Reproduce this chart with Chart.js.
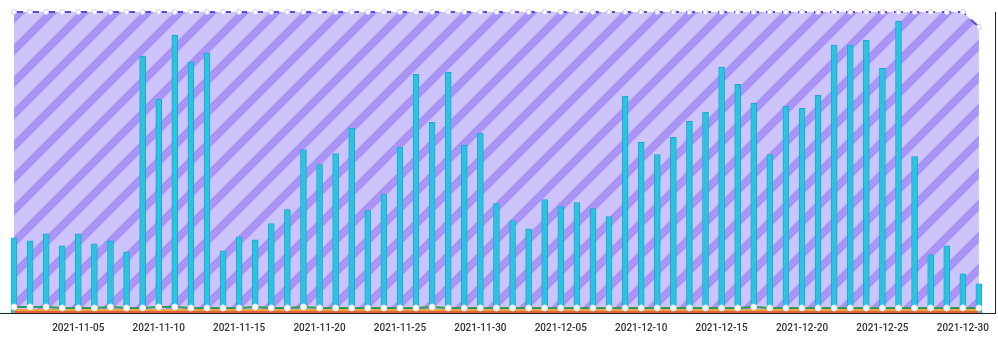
<!DOCTYPE html>
<html>
<head>
<meta charset="utf-8">
<script src="https://cdn.jsdelivr.net/npm/chart.js@4/dist/chart.umd.min.js"></script>
<style>
  html, body { margin: 0; padding: 0; background: #fff; }
  #wrap { width: 998px; height: 343px; position: relative; }
</style>
</head>
<body>
<div id="wrap"><canvas id="chart"></canvas></div>
<script>
// daily categories, 2021-11-01 .. 2021-12-31
const dates = [];
for (let d = new Date(Date.UTC(2021, 10, 1)); d <= new Date(Date.UTC(2021, 11, 31)); d.setUTCDate(d.getUTCDate() + 1)) {
  dates.push(d.toISOString().slice(0, 10));
}

const tickLabels = ['2021-11-05', '2021-11-10', '2021-11-15', '2021-11-20', '2021-11-25', '2021-11-30',
  '2021-12-05', '2021-12-10', '2021-12-15', '2021-12-20', '2021-12-25', '2021-12-30'];

const dailyCount = [
  75, 72, 79, 67, 79, 69, 72, 61,
  256, 213, 277, 250, 259, 62, 76, 73,
  89, 103, 163, 148, 159, 184, 102, 118,
  165, 238, 190, 240, 167, 179, 109, 92,
  84, 113, 106, 110, 104, 96, 216, 170,
  158, 175, 191, 200, 245, 228, 209, 158,
  206, 204, 217, 267, 267, 272, 244, 291,
  156, 58, 67, 39, 29
];

const capacity = [
  300, 300, 300, 300, 300, 300, 300, 300, 300, 300,
  300, 300, 300, 300, 300, 300, 300, 300, 300, 300,
  300, 300, 300, 300, 300, 300, 300, 300, 300, 300,
  300, 300, 300, 300, 300, 300, 300, 300, 300, 300,
  300, 300, 300, 300, 300, 300, 300, 300, 300, 300,
  300, 300, 300, 300, 300, 300, 300, 300, 300, 300,
  285
];

const greenSeries = [
  6, 6, 6, 5, 5, 5, 6, 5, 5, 6, 6, 5, 5, 5, 5, 6, 5, 5, 6, 5,
  5, 5, 5, 5, 5, 5, 6, 5, 5, 5, 5, 5, 5, 5, 5, 5, 5, 5, 5, 5,
  5, 5, 5, 5, 5, 5, 6, 5, 5, 5, 5, 5, 5, 5, 5, 5, 5, 5, 5, 5, 5
];

const orangeSeries = [
  3, 3, 3, 3, 3, 3, 3, 3, 3, 3, 3, 3, 3, 3, 3, 3, 3, 3, 3, 3,
  3, 3, 3, 3, 3, 3, 3, 3, 3, 3, 3, 3, 3, 3, 3, 3, 3, 3, 3, 3,
  3, 3, 3, 3, 3, 3, 3, 3, 3, 3, 3, 3, 3, 3, 3, 3, 3, 3, 3, 3, 3
];

const redSeries = [
  1, 1, 1, 1, 1, 1, 1, 1, 1, 1, 1, 1, 1, 1, 1, 1, 1, 1, 1, 1,
  1, 1, 1, 1, 1, 1, 1, 1, 1, 1, 1, 1, 1, 1, 1, 1, 1, 1, 1, 1,
  1, 1, 1, 1, 1, 1, 1, 1, 1, 1, 1, 1, 1, 1, 1, 1, 1, 1, 1, 1, 1
];

const asPoints = arr => arr.map((v, i) => ({ x: i, y: v }));

// diagonal hatch for the capacity area
function makeHatch() {
  const s = 32;
  const c = document.createElement('canvas');
  c.width = s; c.height = s;
  const g = c.getContext('2d');
  g.fillStyle = '#ccc4fb';
  g.fillRect(0, 0, s, s);
  g.strokeStyle = '#aa95f6';
  g.lineWidth = 8;
  g.beginPath();
  for (const k of [0, s, 2 * s]) {
    g.moveTo(-s, k + s);
    g.lineTo(k + s, -s);
  }
  g.stroke();
  return g.createPattern(c, 'repeat');
}

const ctx = document.getElementById('chart').getContext('2d');
new Chart(ctx, {
  data: {
    datasets: [
      {
        type: 'line',
        data: asPoints(capacity),
        borderColor: '#5d46d0',
        borderWidth: 2,
        borderDash: [9, 7],
        backgroundColor: makeHatch(),
        fill: 'origin',
        clip: 5,
        pointRadius: 2.5,
        pointBorderWidth: 1,
        pointBackgroundColor: '#ffffff',
        pointBorderColor: '#cfc6f6',
        tension: 0,
        order: 5
      },
      {
        type: 'bar',
        data: asPoints(dailyCount),
        backgroundColor: '#2bc3e0',
        borderColor: '#1ba9d6',
        borderWidth: 1,
        barThickness: 6,
        order: 4
      },
      {
        type: 'line',
        data: asPoints(redSeries),
        borderColor: '#e8603c',
        borderWidth: 2,
        pointRadius: 0,
        order: 3
      },
      {
        type: 'line',
        data: asPoints(orangeSeries),
        borderColor: '#eaa83e',
        borderWidth: 2,
        pointRadius: 0,
        order: 2
      },
      {
        type: 'line',
        data: asPoints(greenSeries),
        borderColor: '#2f9a5c',
        borderWidth: 2,
        pointRadius: 3,
        pointBorderWidth: 1,
        pointBackgroundColor: '#ffffff',
        pointBorderColor: '#e4e4e4',
        order: 1
      }
    ]
  },
  options: {
    responsive: true,
    maintainAspectRatio: false,
    animation: false,
    layout: { autoPadding: false, padding: { top: 12, left: 0, right: 0, bottom: 0 } },
    plugins: {
      legend: { display: false },
      tooltip: { enabled: false }
    },
    scales: {
      x: {
        type: 'linear',
        position: 'bottom',
        offset: false,
        min: -0.87,
        max: 61.06,
        grid: { display: false, drawTicks: false, offset: false },
        border: { color: '#222', width: 1 },
        afterBuildTicks(scale) {
          scale.ticks = tickLabels.map(l => ({ value: dates.indexOf(l) }));
        },
        afterFit(scale) { scale.height = 30; },
        ticks: {
          autoSkip: false,
          maxRotation: 0,
          padding: 9,
          color: '#333333',
          font: { family: 'Roboto', size: 10, weight: '500' },
          callback: v => dates[v]
        }
      },
      y: {
        position: 'right',
        min: 0,
        max: 300,
        grid: { display: false, drawTicks: false },
        border: { color: '#222', width: 1 },
        ticks: { display: false },
        afterFit(scale) { scale.width = 1; }
      }
    }
  }
});
</script>
</body>
</html>
